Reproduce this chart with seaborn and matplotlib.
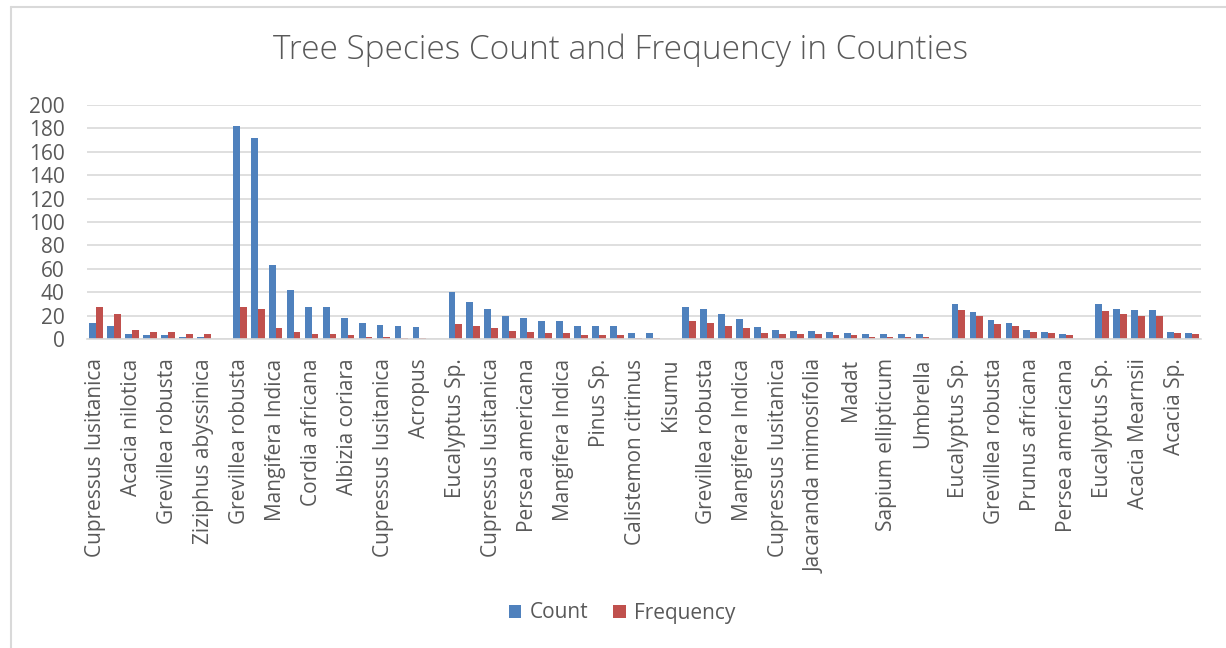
import numpy as np
import pandas as pd
import matplotlib
matplotlib.use("Agg")
import matplotlib.pyplot as plt
import seaborn as sns
from matplotlib.lines import Line2D

# ---- data ----
visible_labels = [
    "Cupressus lusitanica", "Acacia nilotica", "Grevillea robusta", "Ziziphus abyssinica",
    "Grevillea robusta", "Mangifera Indica", "Cordia africana", "Albizia coriara",
    "Cupressus lusitanica", "Acropus", "Eucalyptus Sp.", "Cupressus lusitanica",
    "Persea americana", "Mangifera Indica", "Pinus Sp.", "Calistemon citrinus",
    "Kisumu", "Grevillea robusta", "Mangifera Indica", "Cupressus lusitanica",
    "Jacaranda mimosifolia", "Madat", "Sapium ellipticum", "Umbrella",
    "Eucalyptus Sp.", "Grevillea robusta", "Prunus africana", "Persea americana",
    "Eucalyptus Sp.", "Acacia Mearnsii", "Acacia Sp.",
]
count = [
    14, 11, 4, 3, 3, 2, 2, np.nan,
    182, 172, 63, 42, 27, 27, 18, 14, 12, 11, 10, np.nan,
    40, 32, 26, 20, 18, 15, 15, 11, 11, 11, 5, 5, np.nan,
    27, 26, 21, 17, 10, 8, 7, 7, 6, 5, 4, 4, 4, 4, np.nan,
    30, 23, 16, 14, 8, 6, 4, np.nan,
    30, 26, 25, 25, 6, 5,
]
frequency = [
    27, 21, 8, 6, 6, 4, 4, np.nan,
    27, 26, 9, 6, 4, 4, 3, 2, 2, 1, 1, np.nan,
    13, 11, 9, 7, 6, 5, 5, 3, 3, 3, 1, 1, np.nan,
    15, 14, 11, 9, 5, 4, 4, 4, 3, 3, 2, 2, 2, 2, np.nan,
    25, 20, 13, 11, 6, 5, 3, np.nan,
    24, 21, 20, 20, 5, 4,
]
series_names = ["Count", "Frequency"]
colors = ["#4F81BD", "#C0504D"]

n = len(count)
df = pd.DataFrame({
    "pos": list(range(n)) * 2,
    "value": count + frequency,
    "series": [series_names[0]] * n + [series_names[1]] * n,
})

sns.set_theme(style="white")
plt.rcParams["font.family"] = ["Open Sans", "DejaVu Sans"]

W, H = 1226, 648
fig = plt.figure(figsize=(W / 100, H / 100), dpi=100)
ax = fig.add_axes([87 / W, 1 - 339 / H, (1201 - 87) / W, (339 - 105) / H])

sns.barplot(data=df, x="pos", y="value", hue="series", palette=colors,
            order=list(range(n)), hue_order=series_names, width=0.76,
            dodge=True, ax=ax, saturation=1, legend=True, edgecolor="none")

ax.set_ylim(0, 200)
ax.set_yticks(range(0, 201, 20))
ax.yaxis.grid(True, color="#d9d9d9", linewidth=1.2)
ax.set_axisbelow(True)
for s in ["top", "right", "left"]:
    ax.spines[s].set_visible(False)
ax.spines["bottom"].set_color("#d9d9d9")
ax.spines["bottom"].set_linewidth(1.2)
ax.set_xlim(-0.5, n - 0.5)
ax.set_xticks(list(range(0, n, 2)))
ax.set_xticklabels(visible_labels, rotation=90, fontsize=15, color="#595959")
ax.tick_params(axis="x", length=0, pad=14)
ax.tick_params(axis="y", length=0, pad=16, labelsize=15, labelcolor="#595959")
ax.set_xlabel("")
ax.set_ylabel("")

fig.suptitle("Tree Species Count and Frequency in Counties", x=621 / W, y=1 - 50 / H,
             va="center", fontsize=24, color="#595959", fontweight="light")

leg = ax.legend(loc="center", bbox_to_anchor=(622 / W, 1 - 613 / H),
                bbox_transform=fig.transFigure, ncol=2, frameon=False,
                fontsize=15, handlelength=0.6, handleheight=0.6,
                columnspacing=1.2, handletextpad=0.4)
for t in leg.get_texts():
    t.set_color("#595959")

# chart frame (left and top edges visible in the reference)
fig.add_artist(Line2D([11 / W, 11 / W], [0, 1 - 6.5 / H], transform=fig.transFigure,
                      color="#d9d9d9", linewidth=1.5))
fig.add_artist(Line2D([11 / W, 1], [1 - 6.5 / H, 1 - 6.5 / H], transform=fig.transFigure,
                      color="#d9d9d9", linewidth=1.5))

fig.savefig("out.png", dpi=100, facecolor="white")
